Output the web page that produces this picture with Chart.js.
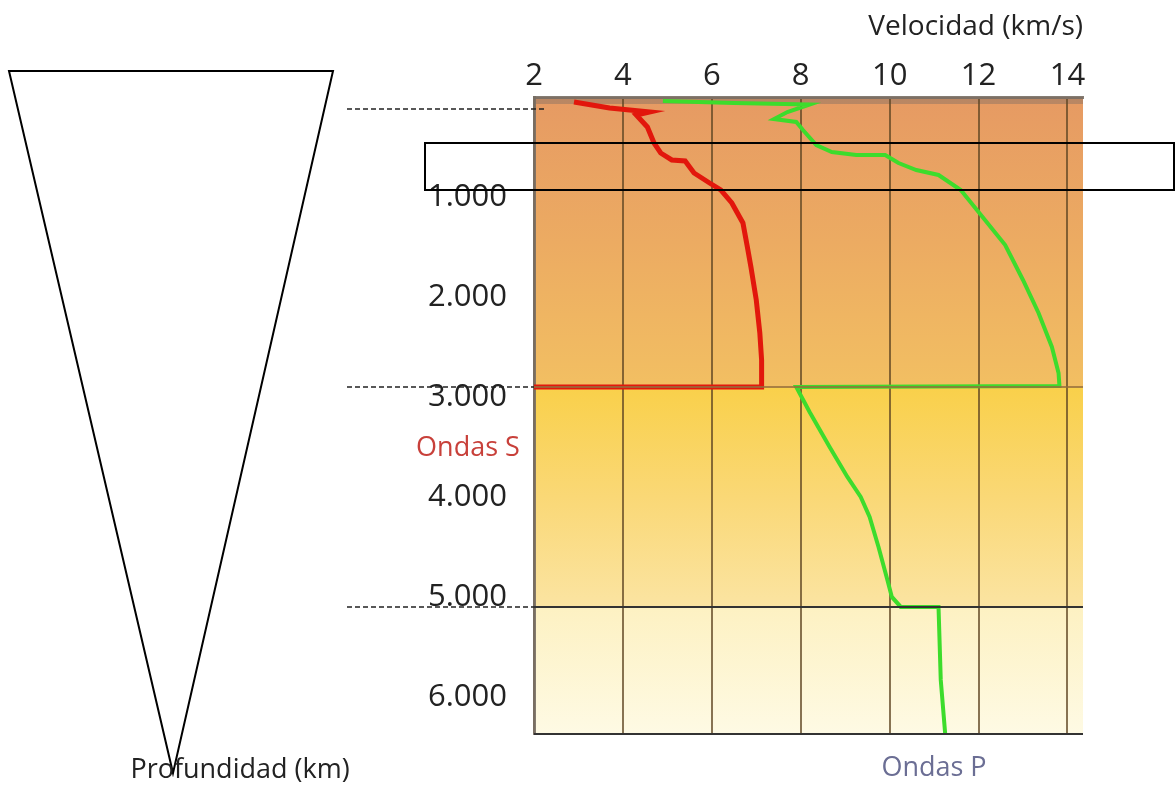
<html lang="es">
<head>
  <meta charset="UTF-8">
  <title>Velocidad de ondas sísmicas</title>
  <script src="https://cdn.jsdelivr.net/npm/chart.js"></script>
  <style>
    body { margin: 0; background: #fff; }
    canvas { display: block; }
  </style>
</head>
<body>
  <canvas id="viz" width="1176" height="790"></canvas>
  <script>
    // ondas S (profundidad km, velocidad km/s)
    const sDepth = [50, 110, 150, 180, 300, 460, 560, 630, 640, 760, 860, 930, 1060, 1260, 1500, 1700, 2030, 2360, 2630, 2900, 2900]
    const sVel   = [2.9, 3.7, 4.6, 4.3, 4.55, 4.7, 4.85, 5.1, 5.4, 5.6, 5.95, 6.2, 6.45, 6.7, 6.8, 6.88, 7.0, 7.08, 7.12, 7.12, 2.0]

    // ondas P
    const pDepth = [40, 60, 75, 150, 220, 250, 330, 480, 550, 580, 580, 660, 730, 780, 930, 1150, 1480, 1830, 2160, 2500, 2760, 2890, 2900,
                    3150, 3500, 3800, 4000, 4200, 4500, 4830, 5000, 5100, 5100, 5830, 6371]
    const pVel   = [4.9, 6.5, 8.2, 7.7, 7.4, 7.9, 8.05, 8.35, 8.7, 9.25, 9.9, 10.2, 10.6, 11.1, 11.6, 12.0, 12.6, 13.0, 13.35, 13.65, 13.8, 13.82, 7.9,
                    8.2, 8.65, 9.05, 9.35, 9.55, 9.75, 9.95, 10.05, 10.25, 11.1, 11.15, 11.25]

    const velTicks = [2, 4, 6, 8, 10, 12, 14]
    const depthTicks = [1000, 2000, 3000, 4000, 5000, 6000]
    // límites: litosfera, manto/núcleo externo, núcleo externo/interno, centro
    const dashedDepths = [120, 2900, 5100]
    const layerDepths = [2900, 5100, 6371]

    const sPoints = sDepth.map((d, i) => ({ x: sVel[i], y: d }))
    const pPoints = pDepth.map((d, i) => ({ x: pVel[i], y: d }))

    const fmt = v => v.toLocaleString('de-DE')
    const FONT = "'Open Sans', sans-serif"

    const backdrop = {
      id: 'backdrop',
      beforeDraw(chart) {
        const { ctx, chartArea: a, scales: { y } } = chart
        const top = a.top, bottom = a.bottom
        const yCmb = y.getPixelForValue(layerDepths[0])
        const yIcb = y.getPixelForValue(layerDepths[1])
        ctx.save()
        // manto
        let g = ctx.createLinearGradient(0, top, 0, yCmb)
        g.addColorStop(0, '#e69a63')
        g.addColorStop(0.5, '#ecab62')
        g.addColorStop(1, '#f2bf62')
        ctx.fillStyle = g
        ctx.fillRect(a.left, top, a.right - a.left, yCmb - top)
        // núcleo externo
        g = ctx.createLinearGradient(0, yCmb, 0, yIcb)
        g.addColorStop(0, '#f9d04a')
        g.addColorStop(0.5, '#fad876')
        g.addColorStop(1, '#fbe4a2')
        ctx.fillStyle = g
        ctx.fillRect(a.left, yCmb, a.right - a.left, yIcb - yCmb)
        // núcleo interno
        g = ctx.createLinearGradient(0, yIcb, 0, bottom)
        g.addColorStop(0, '#fdf1c2')
        g.addColorStop(1, '#fefae4')
        ctx.fillStyle = g
        ctx.fillRect(a.left, yIcb, a.right - a.left, bottom - yIcb)
        // banda gris arriba
        ctx.fillStyle = 'rgba(130,110,100,0.45)'
        ctx.fillRect(a.left, top, a.right - a.left, 7)
        ctx.restore()
      },
      afterDatasetsDraw(chart) {
        const { ctx, chartArea: a, scales: { y } } = chart
        ctx.save()
        // líneas de capas
        layerDepths.forEach((d, i) => {
          const py = y.getPixelForValue(d)
          ctx.strokeStyle = i === 0 ? 'rgba(150,110,60,0.8)' : '#333'
          ctx.lineWidth = 2
          ctx.beginPath()
          ctx.moveTo(a.left, py)
          ctx.lineTo(a.right, py)
          ctx.stroke()
        })
        // líneas discontinuas a la izquierda
        ctx.strokeStyle = '#222'
        ctx.lineWidth = 1.5
        ctx.setLineDash([5, 3])
        dashedDepths.forEach((d, i) => {
          const py = y.getPixelForValue(d)
          ctx.beginPath()
          ctx.moveTo(347, py)
          ctx.lineTo(i === 0 ? a.left + 10 : a.left, py)
          ctx.stroke()
        })
        ctx.setLineDash([])
        // recuadro
        ctx.strokeStyle = '#000'
        ctx.lineWidth = 2
        ctx.strokeRect(425, 143, 749, 47)
        // triángulo
        ctx.beginPath()
        ctx.moveTo(9, 71)
        ctx.lineTo(333, 71)
        ctx.lineTo(173, 773)
        ctx.closePath()
        ctx.stroke()
        // textos
        ctx.textAlign = 'center'
        ctx.textBaseline = 'middle'
        ctx.font = '27px ' + FONT
        ctx.fillStyle = '#222'
        ctx.fillText('Profundidad (km)', 240, 770)
        ctx.fillStyle = '#c8403a'
        ctx.fillText('Ondas S', 468, 448)
        ctx.fillStyle = '#6b6e94'
        ctx.fillText('Ondas P', 934, 768)
        ctx.restore()
      }
    }

    const chart = new Chart(document.getElementById('viz'), {
      type: 'scatter',
      data: {
        datasets: [{
          label: 'Ondas S',
          data: sPoints,
          showLine: true,
          borderColor: '#e2170c',
          borderWidth: 5,
          pointRadius: 0,
          tension: 0
        }, {
          label: 'Ondas P',
          data: pPoints,
          showLine: true,
          borderColor: '#3ddc2c',
          borderWidth: 4,
          pointRadius: 0,
          tension: 0
        }]
      },
      options: {
        responsive: false,
        animation: false,
        devicePixelRatio: 1,
        layout: { padding: { left: 0, top: 0, right: 93, bottom: 56 } },
        plugins: { legend: { display: false }, tooltip: { enabled: false } },
        scales: {
          x: {
            type: 'linear',
            position: 'top',
            min: 2,
            max: 14.35,
            afterBuildTicks: s => { s.ticks = velTicks.map(v => ({ value: v })) },
            afterFit: s => { s.height = 97 },
            ticks: { color: '#222', font: { family: FONT, size: 31 }, padding: 2 },
            grid: { color: 'rgba(95,70,35,0.75)', lineWidth: 2, drawTicks: false },
            border: { color: 'rgba(120,110,100,0.9)', width: 3 },
            title: {
              display: true,
              text: 'Velocidad (km/s)',
              align: 'end',
              color: '#222',
              font: { family: FONT, size: 28 },
              padding: { top: 10, bottom: 0 }
            }
          },
          y: {
            type: 'linear',
            reverse: true,
            min: 0,
            max: 6371,
            afterBuildTicks: s => { s.ticks = depthTicks.map(v => ({ value: v })) },
            afterFit: s => { s.width = 534 },
            ticks: { color: '#222', font: { family: FONT, size: 31 }, padding: 19, callback: v => fmt(v) },
            grid: { display: false },
            border: { color: 'rgba(120,110,100,0.9)', width: 3 }
          }
        }
      },
      plugins: [backdrop]
    })
  </script>
</body>
</html>
